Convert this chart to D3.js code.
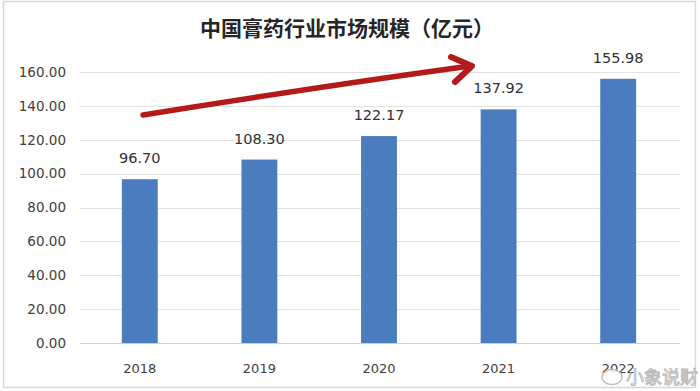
<!DOCTYPE html>
<html><head><meta charset="utf-8">
<script src="https://cdn.jsdelivr.net/npm/d3@7"></script>
<style>body{margin:0;background:#fff}svg{display:block}</style>
</head><body>
<script>
const years = ["2018","2019","2020","2021","2022"];
const values = [96.70,108.30,122.17,137.92,155.98];
const yTicks = [0,20,40,60,80,100,120,140,160];
const title = "中国膏药行业市场规模（亿元）";

const W=700,H=391;
const svg=d3.select("body").append("svg").attr("width",W).attr("height",H);
svg.append("rect").attr("x",3.5).attr("y",1.5).attr("width",692).attr("height",386)
  .attr("fill","#fff").attr("stroke","#d8d8d8").attr("stroke-width",1.5);

const x=d3.scaleBand().domain(years).range([80,678]).paddingInner(0.7).paddingOuter(0.35);
const y=d3.scaleLinear().domain([0,160]).range([343,72]);

svg.append("g").selectAll("line").data(yTicks).join("line")
  .attr("x1",80).attr("x2",680).attr("y1",d=>Math.round(y(d))+0.5).attr("y2",d=>Math.round(y(d))+0.5)
  .attr("stroke",d=>d===0?"#cfcfcf":"#e2e2e2").attr("stroke-width",1);

const yAxis=d3.axisLeft(y).tickValues(yTicks).tickFormat(d=>d3.format(".2f")(d)).tickSize(0).tickPadding(0);
const ga=svg.append("g").attr("transform","translate(66,0)").call(yAxis);
ga.select(".domain").remove();
ga.selectAll("text").attr("font-family","DejaVu Sans").attr("font-size",13.5).attr("fill","#404040");

const xAxis=d3.axisBottom(x).tickSize(0).tickPadding(0);
const gx=svg.append("g").attr("transform","translate(0,364)").call(xAxis);
gx.select(".domain").remove();
gx.selectAll("text").attr("font-family","DejaVu Sans").attr("font-size",13).attr("fill","#404040");

svg.append("g").selectAll("rect").data(values).join("rect")
  .attr("x",(d,i)=>x(years[i])).attr("width",x.bandwidth())
  .attr("y",d=>y(d)).attr("height",d=>y(0)-y(d)).attr("fill","#4a7cbf");

svg.append("g").selectAll("text").data(values).join("text")
  .attr("x",(d,i)=>x(years[i])+x.bandwidth()/2).attr("y",d=>y(d)-16)
  .attr("text-anchor","middle").attr("font-family","DejaVu Sans").attr("font-size",14.5).attr("fill","#303030")
  .text(d=>d3.format(".2f")(d));

svg.append("text").attr("x",347).attr("y",36).attr("text-anchor","middle")
  .attr("font-family","Noto Sans CJK SC").attr("font-weight","bold").attr("font-size",21).attr("fill","#262626")
  .text(title);

svg.append("path").attr("d","M143,115 Q310,88 470,66").attr("fill","none")
  .attr("stroke","#b51a1a").attr("stroke-width",5.5).attr("stroke-linecap","round");
svg.append("path").attr("d","M451,57 L472,66 L455,82").attr("fill","none")
  .attr("stroke","#b51a1a").attr("stroke-width",6).attr("stroke-linecap","round").attr("stroke-linejoin","round");

const wm=svg.append("g").attr("opacity",0.85);
wm.append("ellipse").attr("cx",612).attr("cy",377).attr("rx",10).attr("ry",7.5)
  .attr("fill","#fff").attr("stroke","#b8b8b8").attr("stroke-width",1.5);
wm.append("text").attr("x",626).attr("y",384).attr("font-family","Noto Sans CJK SC").attr("font-size",18)
  .attr("fill","#fff").attr("stroke","#b0b0b0").attr("stroke-width",1).text("小象说财");
</script>
</body></html>
